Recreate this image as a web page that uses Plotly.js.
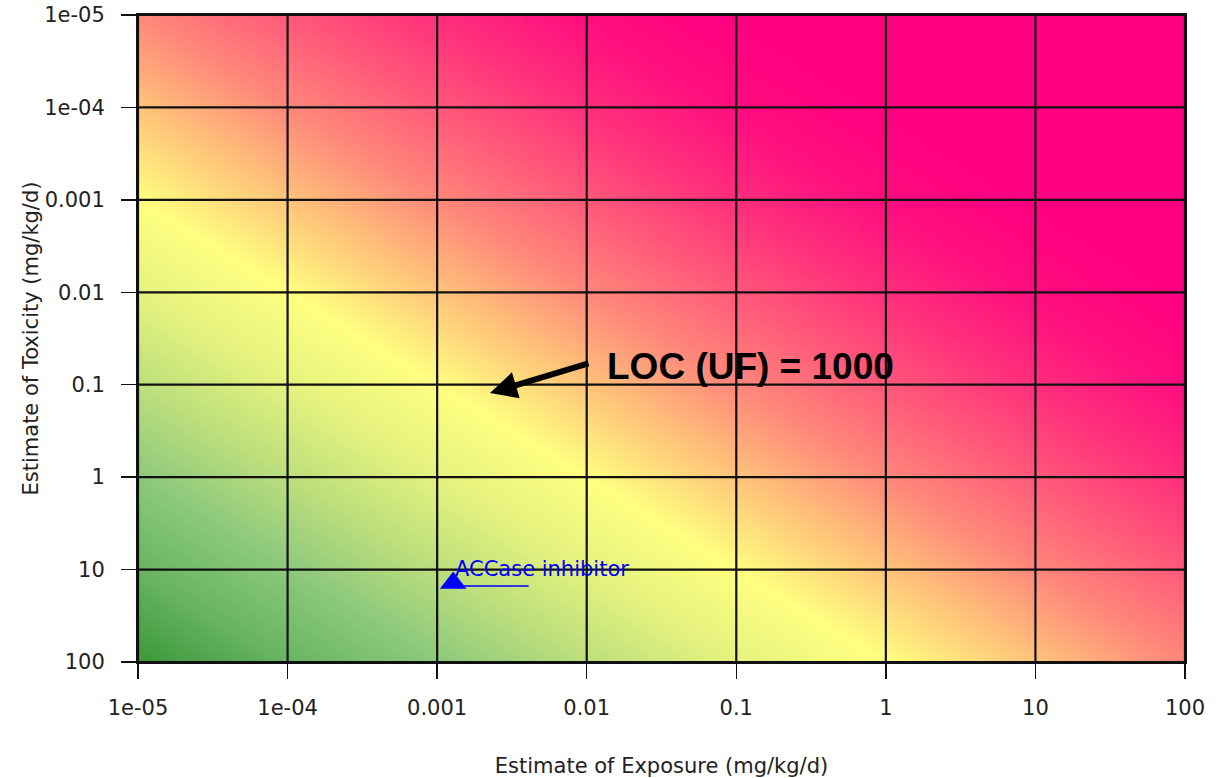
<!DOCTYPE html>
<html>
<head>
<meta charset="utf-8">
<script src="https://cdn.plot.ly/plotly-3.0.1.min.js"></script>
<style>html,body{margin:0;padding:0;background:#fff;}#chart{width:1219px;height:778px;}</style>
</head>
<body>
<div id="chart"></div>
<script>
// Axis decades (exposure on x, toxicity on y), mg/kg/d
var exposureTicks = [1e-5, 1e-4, 1e-3, 1e-2, 1e-1, 1, 10, 100];
var exposureLabels = ['1e-05', '1e-04', '0.001', '0.01', '0.1', '1', '10', '100'];
var toxicityTicks = [1e-5, 1e-4, 1e-3, 1e-2, 1e-1, 1, 10, 100];
var toxicityLabels = ['1e-05', '1e-04', '0.001', '0.01', '0.1', '1', '10', '100'];

// Compound plotted
var compoundNames = ['ACCase inhibitor'];
var compoundExposure = [0.00128];
var compoundToxicity = [14];

// Background: risk ratio exposure / toxicity (log10)
var riskZ = toxicityTicks.map(function (t) {
  return exposureTicks.map(function (e) { return Math.log10(e / t); });
});

var riskColors = [
  [0.0, 'rgb(60,152,56)'],
  [0.0714, 'rgb(104,180,98)'],
  [0.1429, 'rgb(140,200,124)'],
  [0.2143, 'rgb(188,222,124)'],
  [0.2857, 'rgb(228,242,126)'],
  [0.3571, 'rgb(255,255,128)'],
  [0.4286, 'rgb(255,196,122)'],
  [0.5, 'rgb(255,135,122)'],
  [0.5714, 'rgb(255,88,122)'],
  [0.6429, 'rgb(255,45,124)'],
  [0.7143, 'rgb(255,12,127)'],
  [0.7857, 'rgb(255,0,128)'],
  [1.0, 'rgb(255,0,128)']
];

// grid lines as traces so they sit above the background
var gx = [], gy = [];
exposureTicks.forEach(function (v) { gx.push(v, v, null); gy.push(toxicityTicks[0], toxicityTicks[toxicityTicks.length - 1], null); });
toxicityTicks.forEach(function (v) { gx.push(exposureTicks[0], exposureTicks[exposureTicks.length - 1], null); gy.push(v, v, null); });

var traces = [
  {
    type: 'heatmap', x: exposureTicks, y: toxicityTicks, z: riskZ,
    zmin: -7, zmax: 7, colorscale: riskColors, zsmooth: 'best',
    showscale: false, hoverinfo: 'skip'
  },
  {
    type: 'scatter', mode: 'lines', x: gx, y: gy,
    line: { color: '#111', width: 2.2 }, hoverinfo: 'skip', showlegend: false
  },
  {
    type: 'scatter', mode: 'markers', x: compoundExposure, y: compoundToxicity,
    marker: { symbol: 'triangle-up', size: 23, color: '#0000ff' },
    showlegend: false, name: compoundNames[0]
  }
];

var tickFont = { family: 'DejaVu Sans', size: 21, color: '#222' };
var titleFont = { family: 'DejaVu Sans', size: 21, color: '#222' };

var annotations = [
  {
    xref: 'x', yref: 'y', x: -2.647, y: -0.91, text: '', showarrow: true,
    ax: 100, ay: -30, arrowhead: 2, arrowsize: 0.9, arrowwidth: 6, arrowcolor: '#000'
  },
  {
    xref: 'x', yref: 'y', x: -1.88, y: -1.192, text: '<b>LOC (UF) = 1000</b>',
    showarrow: false, xanchor: 'left', yanchor: 'middle',
    font: { family: 'Liberation Sans, Arial, sans-serif', size: 37, color: '#000' }
  }
];
compoundNames.forEach(function (n, i) {
  annotations.push({
    xref: 'x', yref: 'y', x: Math.log10(compoundExposure[i]), y: Math.log10(compoundToxicity[i]),
    text: n, showarrow: false, xanchor: 'left', yanchor: 'middle', xshift: 0, yshift: 14,
    font: { family: 'DejaVu Sans', size: 21, color: '#0000ff' }
  });
  annotations.push({
    xref: 'x', yref: 'y', x: Math.log10(compoundExposure[i]), y: Math.log10(compoundToxicity[i]),
    text: '', showarrow: true, ax: 77, ay: 0, yshift: -3,
    arrowhead: 0, arrowwidth: 1.5, arrowcolor: '#0000ff'
  });
});

var layout = {
  width: 1219, height: 778,
  margin: { l: 138, r: 34, t: 15, b: 116 },
  paper_bgcolor: '#fff', plot_bgcolor: '#fff',
  showlegend: false,
  xaxis: {
    type: 'log', range: [Math.log10(exposureTicks[0]), Math.log10(exposureTicks[exposureTicks.length - 1])],
    tickmode: 'array', tickvals: exposureTicks, ticktext: exposureLabels,
    ticks: 'outside', ticklen: 15, tickwidth: 1.5, tickcolor: '#111',
    ticklabelstandoff: 11,
    showgrid: false, zeroline: false,
    showline: true, mirror: true, linecolor: '#111', linewidth: 2, layer: 'above traces',
    tickfont: tickFont,
    title: { text: 'Estimate of Exposure (mg/kg/d)', font: titleFont, standoff: 42 }
  },
  yaxis: {
    type: 'log', range: [Math.log10(toxicityTicks[toxicityTicks.length - 1]), Math.log10(toxicityTicks[0])],
    tickmode: 'array', tickvals: toxicityTicks, ticktext: toxicityLabels,
    ticks: 'outside', ticklen: 15, tickwidth: 1.5, tickcolor: '#111',
    ticklabelstandoff: 12,
    showgrid: false, zeroline: false,
    showline: true, mirror: true, linecolor: '#111', linewidth: 2, layer: 'above traces',
    tickfont: tickFont,
    title: { text: 'Estimate of Toxicity (mg/kg/d)', font: titleFont, standoff: 0 }
  },
  annotations: annotations
};

Plotly.newPlot('chart', traces, layout, { displayModeBar: false, staticPlot: true });
</script>
</body>
</html>
